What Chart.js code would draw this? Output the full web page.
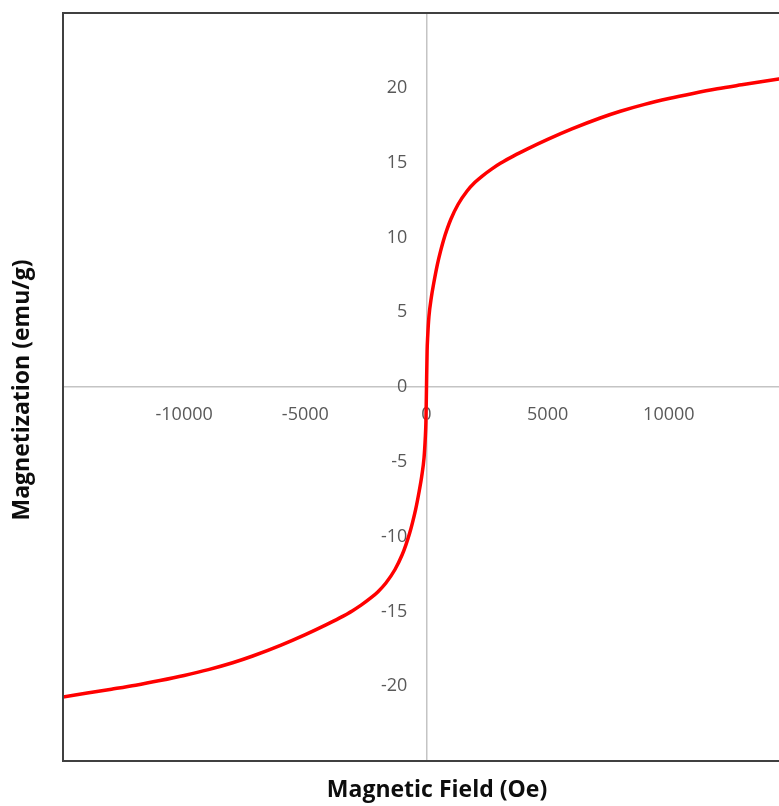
<!DOCTYPE html>
<html>
<head>
<meta charset="utf-8">
<script src="https://cdn.jsdelivr.net/npm/chart.js@4/dist/chart.umd.min.js"></script>
<style>
  html, body { margin: 0; padding: 0; background: #ffffff; overflow: hidden; }
  #wrap { position: relative; width: 807px; height: 806px; }
</style>
</head>
<body>
<div id="wrap"><canvas id="c"></canvas></div>
<script>
// Data
const fieldOe = [-15000, -14000, -13000, -12000, -11000, -10000, -9000, -8000, -7170, -6000, -5000, -4150, -3600, -3050, -2700, -2300, -2000, -1675, -1300, -1000, -850, -700, -575, -450, -300, -200, -100, -50, -25, 0, 25, 50, 100, 200, 300, 450, 575, 700, 850, 1000, 1300, 1675, 2000, 2300, 2700, 3050, 3600, 4150, 5000, 6000, 7170, 8000, 9000, 10000, 11000, 12000, 13000, 14000, 15000];
const magnetization = [-20.72, -20.46, -20.2, -19.93, -19.62, -19.28, -18.89, -18.43, -17.98, -17.25, -16.55, -15.9, -15.45, -14.95, -14.58, -14.1, -13.68, -13.1, -12.2, -11.2, -10.55, -9.8, -9.05, -8.2, -6.95, -6.0, -4.7, -3.4, -2.4, 0, 2.4, 3.4, 4.7, 6.0, 6.95, 8.2, 9.05, 9.8, 10.55, 11.2, 12.2, 13.1, 13.68, 14.1, 14.58, 14.95, 15.45, 15.9, 16.55, 17.25, 17.98, 18.43, 18.89, 19.28, 19.62, 19.93, 20.2, 20.46, 20.7];
const xTicks = [-15000, -10000, -5000, 0, 5000, 10000, 15000];
const yTicks = [-25, -20, -15, -10, -5, 0, 5, 10, 15, 20, 25];
const xTitle = 'Magnetic Field (Oe)';
const yTitle = 'Magnetization (emu/g)';

const points = fieldOe.map((h, i) => ({ x: h, y: magnetization[i] }));

const frameAndTitles = {
  id: 'frameAndTitles',
  afterDraw(chart) {
    const { ctx, chartArea: a } = chart;
    ctx.save();
    ctx.strokeStyle = '#404040';
    ctx.lineWidth = 2;
    ctx.strokeRect(a.left, a.top, a.right - a.left, a.bottom - a.top);
    ctx.fillStyle = '#0d0d0d';
    ctx.font = 'bold 23px "Open Sans"';
    ctx.textAlign = 'center';
    ctx.textBaseline = 'middle';
    ctx.fillText(xTitle, 437, 790);
    ctx.translate(22, 390);
    ctx.rotate(-Math.PI / 2);
    ctx.fillText(yTitle, 0, 0);
    ctx.restore();
  }
};

const tickFont = { family: '"Open Sans"', size: 18 };
const yRange = { min: -25, max: 25 };
const yTickBuilder = (s) => { s.ticks = yTicks.map(v => ({ value: v })); };

new Chart(document.getElementById('c'), {
  type: 'scatter',
  data: {
    datasets: [{
      data: points,
      showLine: true,
      borderColor: '#ff0000',
      borderWidth: 3.5,
      pointRadius: 0,
      cubicInterpolationMode: 'monotone',
      fill: false,
      yAxisID: 'y'
    }]
  },
  options: {
    responsive: true,
    maintainAspectRatio: false,
    animation: false,
    layout: { padding: { left: 63, top: 13, right: 10, bottom: 45 } },
    plugins: { legend: { display: false }, tooltip: { enabled: false } },
    scales: {
      x: {
        type: 'linear',
        position: { y: 0 },
        min: -15000, max: 15000,
        afterBuildTicks: (s) => { s.ticks = xTicks.map(v => ({ value: v })); },
        grid: { display: true, color: 'rgba(0,0,0,0)', drawTicks: false },
        border: { display: true, color: '#c4c4c4', width: 1.5 },
        ticks: {
          padding: 17,
          color: '#595959',
          font: tickFont,
          maxRotation: 0,
          autoSkip: false,
          callback: (v) => (Math.abs(v) === 15000 ? '' : String(v))
        }
      },
      y: {
        type: 'linear',
        position: { x: 0 },
        min: yRange.min, max: yRange.max,
        afterBuildTicks: yTickBuilder,
        grid: { display: true, color: 'rgba(0,0,0,0)', drawTicks: false },
        border: { display: true, color: '#c4c4c4', width: 1.5 },
        ticks: { display: false }
      },
      yLabels: {
        type: 'linear',
        axis: 'y',
        position: { x: -790 },
        min: yRange.min, max: yRange.max,
        afterBuildTicks: yTickBuilder,
        grid: { display: false, drawTicks: false },
        border: { display: false },
        ticks: {
          padding: 0,
          color: '#595959',
          font: tickFont,
          autoSkip: false,
          callback: (v) => (Math.abs(v) === 25 ? '' : String(v))
        }
      }
    }
  },
  plugins: [frameAndTitles]
});
</script>
</body>
</html>
